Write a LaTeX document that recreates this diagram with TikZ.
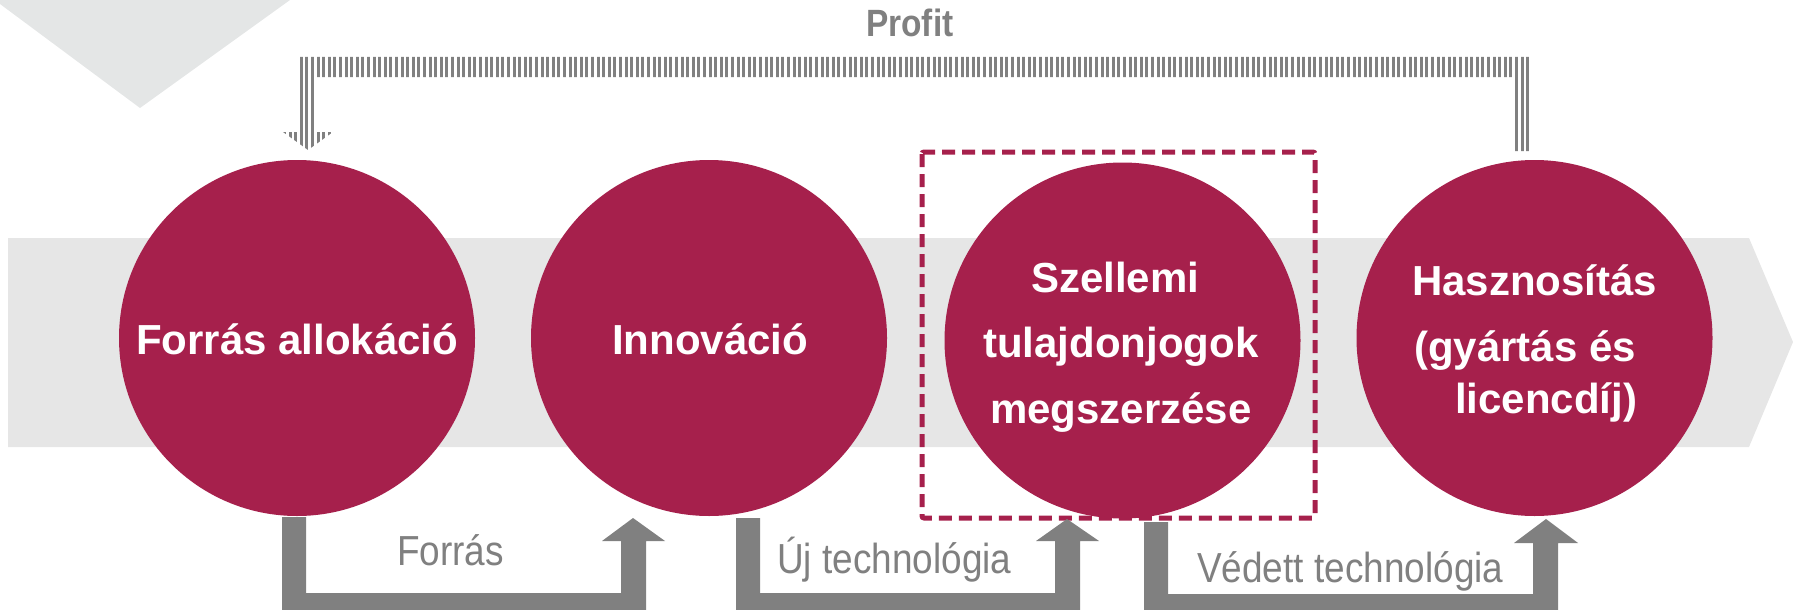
\documentclass[tikz,border=0pt]{standalone}
\usepackage{fontspec}
\setmainfont{Liberation Sans}
\newfontfamily\narrowfont{Liberation Sans}[FakeStretch=0.88]
\newfontfamily\profitfont{Liberation Sans}[FakeStretch=0.88]
\definecolor{crimson}{HTML}{A6204C}
\definecolor{midgray}{HTML}{808080}
\definecolor{bandgray}{HTML}{E6E6E6}
\definecolor{palegray}{HTML}{E4E6E6}
\begin{document}
\begin{tikzpicture}[x=1pt,y=-1pt,
  stage/.style={circle, fill=crimson, minimum size=356pt, inner sep=0pt},
  stagetext/.style={anchor=base west, inner sep=0pt, text=white, font=\fontsize{42}{42}\selectfont\bfseries},
  flowlabel/.style={anchor=base west, inner sep=0pt, text=midgray, font=\narrowfont\fontsize{42}{42}\selectfont},
  profitlabel/.style={anchor=base west, inner sep=0pt, text=midgray, font=\profitfont\fontsize{38}{38}\selectfont\bfseries},
  flowarrow/.style={fill=midgray},
  focusbox/.style={draw=crimson, line width=5pt, dash pattern=on 13pt off 7pt, rounded corners=2pt}
]
\useasboundingbox (0,0) rectangle (1798,610);
% background shapes
\fill[palegray] (0,0) -- (290,0) -- (140,108) -- (0,4) -- cycle;
\fill[bandgray] (8,238) -- (1749,238) -- (1793,342) -- (1749,447) -- (8,447) -- cycle;
% profit feedback arrow (striped)
\begin{scope}
  \clip (1531,57) -- (1531,151) -- (1512,151) -- (1512,77) -- (316,77) -- (316,132)
        -- (333,132) -- (308,150) -- (283,132) -- (298,132) -- (298,57) -- cycle;
  \foreach \i in {0,...,224} \fill[midgray] ({283+5.6*\i},50) rectangle ++(3,105);
\end{scope}
% stages
\node[stage] (c1) at (297,338) {};
\node[stage] (c2) at (709,338) {};
\node[stage] (c3) at (1122.5,340.5) {};
\node[stage] (c4) at (1534.5,338) {};
% focus box
\draw[focusbox] (922,152) rectangle (1315,518);
% bottom flow arrows
\fill[flowarrow] (282,517) -- (306,517) -- (306,593) -- (621,593) -- (621,541) -- (602,541)
  -- (633,518) -- (665,541) -- (646,541) -- (646,618) -- (282,618) -- cycle;
\fill[flowarrow] (736,518) -- (760,518) -- (760,593) -- (1055,593) -- (1055,541) -- (1036,541)
  -- (1067,519) -- (1099,541) -- (1080,541) -- (1080,618) -- (736,618) -- cycle;
\fill[flowarrow] (1144,522) -- (1168,522) -- (1168,594) -- (1533,594) -- (1533,543) -- (1514,543)
  -- (1546,519) -- (1578,543) -- (1558,543) -- (1558,618) -- (1144,618) -- cycle;
% texts
\node[stagetext] (t1) at (136,354) {Forrás allokáció};
\node[stagetext] (t2) at (612,354) {Innováció};
\node[stagetext] (t3a) at (1031,292) {Szellemi};
\node[stagetext] (t3b) at (983,357) {tulajdonjogok};
\node[stagetext] (t3c) at (990,423) {megszerzése};
\node[stagetext] (t4a) at (1412,295) {Hasznosítás};
\node[stagetext] (t4b) at (1414,361) {(gyártás és};
\node[stagetext] (t4c) at (1455,413) {licencdíj)};
\node[flowlabel] (l1) at (397,565) {Forrás};
\node[flowlabel] (l2) at (777,573) {Új technológia};
\node[flowlabel] (l3) at (1197,582) {Védett technológia};
\node[profitlabel] (lp) at (866,37) {Profit};
\end{tikzpicture}
\end{document}
